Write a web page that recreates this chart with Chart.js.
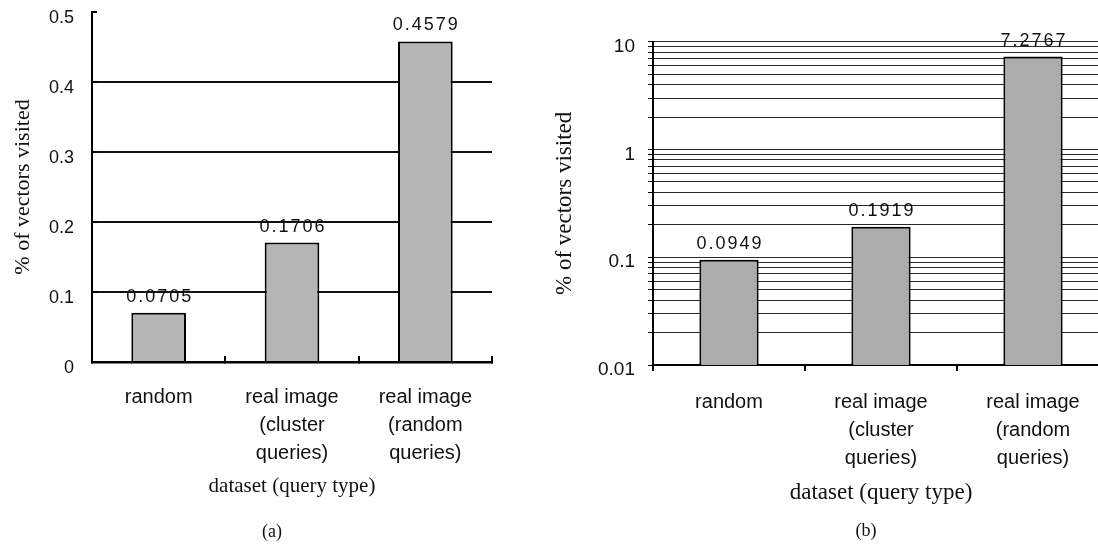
<!DOCTYPE html>
<html><head><meta charset="utf-8">
<script src="https://cdn.jsdelivr.net/npm/chart.js@4/dist/chart.umd.min.js"></script>
<style>
html,body{margin:0;padding:0;background:#fff;overflow:hidden;width:1098px;height:546px;position:relative;}
#ca{position:absolute;left:0;top:0;}
#cb{position:absolute;left:540px;top:0;}
.cap{position:absolute;font-family:"Liberation Serif",serif;font-size:18px;color:#111;transform:translate(-50%,-50%);white-space:nowrap;}
</style></head><body>
<canvas id="ca" width="540" height="546"></canvas>
<canvas id="cb" width="580" height="546"></canvas>
<div class="cap" style="left:272px;top:531px;">(a)</div>
<div class="cap" style="left:866px;top:530px;">(b)</div>
<script>
// ---- data ----
const categories = ['random', ['real image', '(cluster', 'queries)'], ['real image', '(random', 'queries)']];
const valuesA = [0.0705, 0.1706, 0.4579];
const valuesB = [0.0949, 0.1919, 7.2767];
const yTicksA = [0, 0.1, 0.2, 0.3, 0.4, 0.5];
const yTickLabelsA = ['0', '0.1', '0.2', '0.3', '0.4', '0.5'];
const decadesB = [0.01, 0.1, 1];
const minorStepsB = [1, 2, 3, 4, 5, 6, 7, 8, 9];
const yTickLabelsB = ['0.01', '0.1', '1', '10'];
const yTitle = '% of vectors visited';
const xTitle = 'dataset (query type)';

const yTicksB = [];
decadesB.forEach(d => minorStepsB.forEach(m => yTicksB.push(+(d * m).toPrecision(3))));
yTicksB.push(10);

const SANS = '"Liberation Sans", Arial, sans-serif';
const SERIF = '"Liberation Serif", "Times New Roman", serif';

const valueLabels = {
  id: 'valueLabels',
  afterDatasetsDraw(chart, args, opts) {
    const ctx = chart.ctx;
    const meta = chart.getDatasetMeta(0);
    ctx.save();
    ctx.font = opts.font;
    ctx.fillStyle = '#111';
    ctx.textAlign = 'center';
    ctx.textBaseline = 'middle';
    if ('letterSpacing' in ctx) ctx.letterSpacing = opts.spacing;
    meta.data.forEach((bar, i) => {
      const v = chart.data.datasets[0].data[i];
      ctx.fillText(v.toFixed(4), bar.x + 1, bar.y - opts.gap);
    });
    ctx.restore();
  }
};

Chart.defaults.animation = false;

// ---- chart (a) ----
new Chart(document.getElementById('ca'), {
  type: 'bar',
  data: {
    labels: categories,
    datasets: [{
      data: valuesA,
      backgroundColor: '#b6b6b6',
      borderColor: '#000',
      borderWidth: 2,
      categoryPercentage: 1,
      barPercentage: 0.41
    }]
  },
  options: {
    responsive: false,
    devicePixelRatio: 1,
    layout: { padding: { top: 12, right: 48, bottom: 0, left: 0 } },
    plugins: {
      legend: { display: false },
      tooltip: { enabled: false },
      valueLabels: { font: '18px ' + SANS, spacing: '2px', gap: 16 }
    },
    scales: {
      x: {
        afterFit: s => { s.height = 184; },
        grid: { drawOnChartArea: false, drawTicks: true, tickLength: -6, tickColor: '#000', lineWidth: 2 },
        border: { display: true, color: '#000', width: 2.5 },
        ticks: { color: '#111', font: { family: SANS, size: 20, lineHeight: 1.4 }, padding: 27, maxRotation: 0, autoSkip: false },
        title: { display: true, text: xTitle, color: '#111', font: { family: SERIF, size: 21 }, padding: { top: 0, bottom: 46.7 } }
      },
      y: {
        min: 0, max: 0.5,
        afterFit: s => { s.width = 92; s.paddingTop = 0; s.paddingBottom = 0; },
        afterBuildTicks: s => { s.ticks = yTicksA.map(v => ({ value: v })); },
        grid: {
          color: c => (c.tick && (c.tick.value === 0 || c.tick.value === 0.5)) ? 'rgba(0,0,0,0)' : '#111',
          lineWidth: 2, drawTicks: true, tickLength: -5, tickColor: '#000'
        },
        border: { display: true, color: '#000', width: 2 },
        ticks: {
          color: '#111', font: { family: SANS, size: 18 }, padding: 23, labelOffset: 6, autoSkip: false,
          callback: (v, i) => yTickLabelsA[i]
        },
        title: { display: true, text: yTitle, color: '#111', font: { family: SERIF, size: 22 }, padding: { top: 10, bottom: 0 } }
      }
    }
  },
  plugins: [valueLabels]
});

// ---- chart (b) ----
new Chart(document.getElementById('cb'), {
  type: 'bar',
  data: {
    labels: categories,
    datasets: [{
      data: valuesB,
      backgroundColor: '#adadad',
      borderColor: '#000',
      borderWidth: 2,
      categoryPercentage: 1,
      barPercentage: 0.39
    }]
  },
  options: {
    responsive: false,
    devicePixelRatio: 1,
    layout: { padding: { top: 41.7, right: 11, bottom: 0, left: 0 } },
    plugins: {
      legend: { display: false },
      tooltip: { enabled: false },
      valueLabels: { font: '18px ' + SANS, spacing: '2px', gap: 16 }
    },
    scales: {
      x: {
        afterFit: s => { s.height = 181; },
        grid: { drawOnChartArea: false, drawTicks: true, tickLength: 6, tickColor: '#000', lineWidth: 2 },
        border: { display: true, color: '#000', width: 2 },
        ticks: { color: '#111', font: { family: SANS, size: 20, lineHeight: 1.4 }, padding: 17, maxRotation: 0, autoSkip: false },
        title: { display: true, text: xTitle, color: '#111', font: { family: SERIF, size: 23 }, padding: { top: 0, bottom: 39.5 } }
      },
      y: {
        type: 'logarithmic',
        min: 0.01, max: 10,
        afterFit: s => { s.width = 113; s.paddingTop = 0; s.paddingBottom = 0; },
        afterBuildTicks: s => { s.ticks = yTicksB.map(v => ({ value: v })); },
        grid: {
          color: c => (c.index === 0) ? 'rgba(0,0,0,0)' : '#2a2a2a',
          lineWidth: 1, drawTicks: true, tickLength: 5, tickColor: '#000'
        },
        border: { display: true, color: '#000', width: 2 },
        ticks: {
          color: '#111', font: { family: SANS, size: 19 }, padding: 13, labelOffset: 5, autoSkip: false,
          callback: (v, i) => (i % 9 === 0) ? yTickLabelsB[i / 9] : ''
        },
        title: { display: true, text: yTitle, color: '#111', font: { family: SERIF, size: 23 }, padding: { top: 11, bottom: 0 } }
      }
    }
  },
  plugins: [valueLabels]
});
</script>
</body></html>
